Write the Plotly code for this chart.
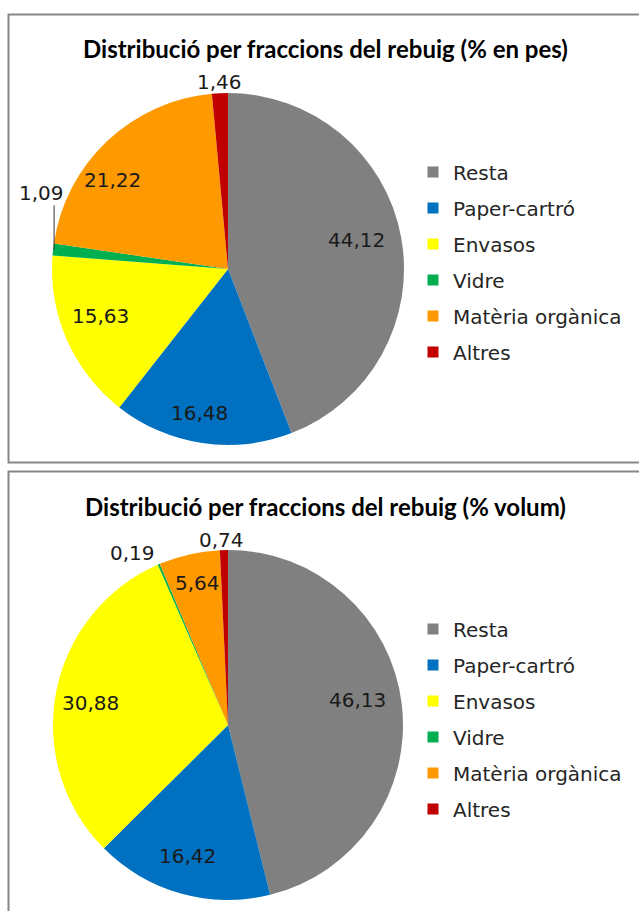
import math
import plotly.graph_objects as go

categories = ["Resta", "Paper-cartró", "Envasos", "Vidre", "Matèria orgànica", "Altres"]
colors = ["#808080", "#0070C0", "#FFFF00", "#00B050", "#FF9900", "#C00000"]
pes_values = [44.12, 16.48, 15.63, 1.09, 21.22, 1.46]
volum_values = [46.13, 16.42, 30.88, 0.19, 5.64, 0.74]
title_pes = "Distribució per fraccions del rebuig (% en pes)"
title_volum = "Distribució per fraccions del rebuig (% volum)"

W, H = 639, 911
LABEL_FONT = dict(family="DejaVu Sans", size=20, color="#1a1a1a")


def fmt(v):
    return f"{v:.2f}".replace(".", ",")


def px_x(x):
    return x / W


def px_y(y):
    return 1 - y / H


fig = go.Figure()


def add_label(text, x, y, xshift=0, yshift=0):
    fig.add_annotation(text=text, xref="paper", yref="paper",
                       x=px_x(x), y=px_y(y), xshift=xshift, yshift=yshift,
                       xanchor="center", yanchor="middle",
                       showarrow=False, font=LABEL_FONT)


def add_pie(values, cx, cy, r, legend_name, outside_offsets, nudges, leader=None):
    fig.add_trace(go.Pie(
        labels=categories, values=values, textinfo="none", sort=False,
        direction="clockwise", rotation=0,
        marker=dict(colors=colors, line=dict(width=0)),
        domain=dict(x=[px_x(cx - r), px_x(cx + r)], y=[px_y(cy + r), px_y(cy - r)]),
        showlegend=False, hoverinfo="label+percent",
    ))
    total = sum(values)
    cum = 0.0
    for i, v in enumerate(values):
        mid = (cum + v / 2) / total * 2 * math.pi
        cum += v
        s, c = math.sin(mid), math.cos(mid)
        if i in outside_offsets:
            # point on the slice's outer edge, label offset from it
            ex, ey = cx + r * s, cy - r * c
            dx, dy = outside_offsets[i]
            add_label(fmt(v), ex, ey, xshift=dx, yshift=-dy)
            if leader is not None and leader[0] == i:
                fig.add_shape(type="line", xref="paper", yref="paper",
                              x0=px_x(ex + 1), x1=px_x(ex + 1),
                              y0=px_y(ey), y1=px_y(ey - leader[1]),
                              line=dict(color="#333333", width=1))
        else:
            d = 0.79 * r
            nx, ny = nudges.get(i, (0, 0))
            add_label(fmt(v), cx + d * s, cy - d * c, xshift=nx, yshift=-ny)
    # legend entries
    for cat, col in zip(categories, colors):
        fig.add_trace(go.Scatter(
            x=[None], y=[None], mode="markers", name=cat,
            marker=dict(symbol="square", size=11, color=col),
            legendgroup=legend_name + cat, legend=legend_name,
            hoverinfo="skip",
        ))


add_pie(pes_values, 228, 269, 176, "legend",
        {3: (-12, -56), 5: (0, -11)},
        {0: (-8, -3), 1: (-8, 6), 2: (0, -9), 4: (-20, 12)},
        leader=(3, 44))
add_pie(volum_values, 228, 725, 175, "legend2",
        {3: (-26, -11), 5: (-2, -10)},
        {0: (-8, -8), 1: (-3, -2), 2: (-2, 4), 4: (0, -7)})

# panel borders
for y0, y1 in [(14.5, 462.5), (471.5, 915)]:
    fig.add_shape(type="rect", xref="paper", yref="paper",
                  x0=px_x(8.5), x1=px_x(645), y0=px_y(y1), y1=px_y(y0),
                  line=dict(color="#878787", width=2), fillcolor="rgba(0,0,0,0)")

for t, y in [(title_pes, 48), (title_volum, 506)]:
    fig.add_annotation(text=f"<b>{t}</b>", xref="paper", yref="paper",
                       x=px_x(325), y=px_y(y), xanchor="center", yanchor="middle",
                       showarrow=False,
                       font=dict(family="Lato", size=24, color="black"))

legend_style = dict(xanchor="left", yanchor="top",
                    font=dict(family="DejaVu Sans", size=20, color="#262626"),
                    itemwidth=30, tracegroupgap=7, bgcolor="rgba(0,0,0,0)",
                    traceorder="grouped", itemclick=False, itemdoubleclick=False)

fig.update_layout(
    width=W, height=H, margin=dict(l=0, r=0, t=0, b=0),
    paper_bgcolor="white", plot_bgcolor="white",
    xaxis=dict(visible=False), yaxis=dict(visible=False),
    legend=dict(x=px_x(413), y=px_y(152.5), **legend_style),
    legend2=dict(x=px_x(413), y=px_y(609.5), **legend_style),
)

fig.write_html("out.html", config={"displayModeBar": False},
               post_script="document.body.style.margin='0';")
